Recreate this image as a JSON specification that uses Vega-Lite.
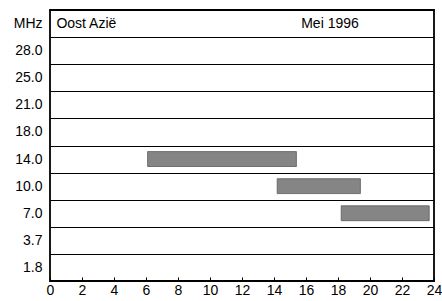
{
  "$schema": "https://vega.github.io/schema/vega-lite/v6.json",
  "width": 384,
  "height": 271,
  "autosize": {"type": "none"},
  "padding": {"left": 50, "top": 10, "right": 8, "bottom": 20},
  "background": "white",
  "config": {
    "font": "Liberation Sans",
    "view": {"stroke": "black", "strokeWidth": 1.8},
    "axis": {"labelFont": "Liberation Sans", "labelColor": "black", "labelFontSize": 14},
    "axisX": {"labelOverlap": false}
  },
  "datasets": {
    "bars": [
      {"band": "14.0", "start": 6.1, "end": 15.4},
      {"band": "10.0", "start": 14.2, "end": 19.4},
      {"band": "7.0", "start": 18.2, "end": 23.7}
    ],
    "titles": [
      {"band": "MHz", "start": 0.4, "label": "Oost Azië"},
      {"band": "MHz", "start": 15.7, "label": "Mei 1996"}
    ]
  },
  "encoding": {
    "y": {
      "field": "band",
      "type": "ordinal",
      "scale": {"domain": ["MHz", "28.0", "25.0", "21.0", "18.0", "14.0", "10.0", "7.0", "3.7", "1.8"], "paddingInner": 0, "paddingOuter": 0},
      "axis": {"title": null, "ticks": false, "domain": false, "grid": true, "gridColor": "black", "gridWidth": 1, "gridOpacity": 1, "tickBand": "extent", "labelPadding": 8}
    },
    "x": {
      "field": "start",
      "type": "quantitative",
      "scale": {"domain": [0, 24], "nice": false},
      "axis": {"title": null, "values": [0, 2, 4, 6, 8, 10, 12, 14, 16, 18, 20, 22, 24], "grid": false, "domain": false, "tickColor": "black", "tickSize": -4, "labelPadding": 6, "labelFlush": false, "labelOverlap": false, "labelBound": false}
    }
  },
  "layer": [
    {
      "data": {"name": "bars"},
      "mark": {"type": "bar", "fill": "#858585", "stroke": "#5a5a5a", "strokeWidth": 0.8, "height": {"band": 0.55}},
      "encoding": {
        "x2": {"field": "end"}
      }
    },
    {
      "data": {"name": "titles"},
      "mark": {"type": "text", "align": "left", "baseline": "middle", "fontSize": 14, "color": "black"},
      "encoding": {
        "text": {"field": "label"}
      }
    }
  ]
}
